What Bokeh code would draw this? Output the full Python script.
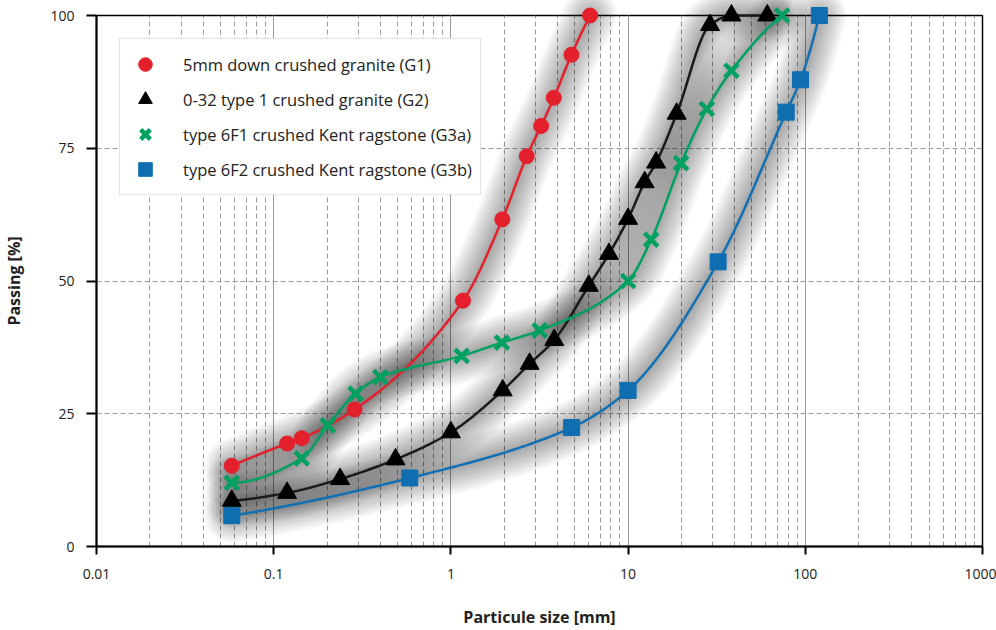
import numpy as np
from bokeh.plotting import figure
from bokeh.models import Legend, LegendItem, FixedTicker, LogTicker, CustomJSTickFormatter
from bokeh.embed import file_html
from bokeh.resources import INLINE

# ---- data ----
g1_size = [0.058, 0.119, 0.144, 0.286, 1.17, 1.95, 2.68, 3.23, 3.81, 4.79, 6.1]
g1_pass = [15.2, 19.4, 20.4, 25.8, 46.3, 61.6, 73.5, 79.2, 84.5, 92.6, 100]

g2_size = [0.058, 0.119, 0.237, 0.487, 1.0, 1.96, 2.78, 3.83, 6.0, 7.8, 10.0, 12.4, 14.4, 18.8, 29.0, 38.3, 61.0]
g2_pass = [8.6, 10.1, 12.7, 16.4, 21.5, 29.4, 34.4, 38.9, 49.1, 55.1, 61.7, 68.6, 72.3, 81.5, 98.2, 100, 100]

g3a_size = [0.058, 0.144, 0.202, 0.29, 0.40, 1.15, 1.94, 3.17, 10.0, 13.5, 19.9, 27.8, 38.3, 74.0]
g3a_pass = [12.0, 16.6, 22.8, 28.8, 31.9, 35.9, 38.4, 40.7, 50.0, 57.8, 72.2, 82.4, 89.6, 100]

g3b_size = [0.058, 0.586, 4.8, 10.0, 32.2, 78.0, 94.0, 120.0]
g3b_pass = [5.8, 12.9, 22.4, 29.4, 53.6, 81.8, 87.9, 100]

labels = ["5mm down crushed granite (G1)", "0-32 type 1 crushed granite (G2)",
          "type 6F1 crushed Kent ragstone (G3a)", "type 6F2 crushed Kent ragstone (G3b)"]
colors = ["#e3202b", "#1a1a1a", "#00a160", "#1170b3"]
marker_colors = ["#e3202b", "#000000", "#00a160", "#0f6eb0"]
markers = ["circle", "triangle", "x", "square"]
msizes = [15, 19, 19, 16]

series = [(g1_size, g1_pass), (g2_size, g2_pass), (g3a_size, g3a_pass), (g3b_size, g3b_pass)]


def smooth(xs, ys, per=40):
    """Monotone cubic (PCHIP) curve through the points, in log-x space."""
    x = np.log10(np.asarray(xs, float))
    y = np.asarray(ys, float)
    n = len(x)
    h = np.diff(x)
    d = np.diff(y) / h
    m = np.zeros(n)
    for k in range(1, n - 1):
        if d[k - 1] * d[k] > 0:
            w1 = 2 * h[k] + h[k - 1]
            w2 = h[k] + 2 * h[k - 1]
            m[k] = (w1 + w2) / (w1 / d[k - 1] + w2 / d[k])

    def endpoint(h0, h1, d0, d1):
        v = ((2 * h0 + h1) * d0 - h0 * d1) / (h0 + h1)
        if np.sign(v) != np.sign(d0):
            v = 0.0
        elif np.sign(d0) != np.sign(d1) and abs(v) > abs(3 * d0):
            v = 3 * d0
        return v

    if n > 2:
        m[0] = endpoint(h[0], h[1], d[0], d[1])
        m[-1] = endpoint(h[-1], h[-2], d[-1], d[-2])
    else:
        m[:] = d[0]
    xx, yy = [], []
    for k in range(n - 1):
        t = np.linspace(0, 1, per, endpoint=(k == n - 2))
        h00 = 2 * t**3 - 3 * t**2 + 1
        h10 = t**3 - 2 * t**2 + t
        h01 = -2 * t**3 + 3 * t**2
        h11 = t**3 - t**2
        xx.append(x[k] + t * h[k])
        yy.append(h00 * y[k] + h10 * h[k] * m[k] + h01 * y[k + 1] + h11 * h[k] * m[k + 1])
    return 10 ** np.concatenate(xx), np.concatenate(yy)


p = figure(width=996, height=630, x_axis_type="log", x_range=(0.01, 1000), y_range=(0, 100),
           output_backend="svg", toolbar_location=None,
           min_border_left=96, min_border_right=14, min_border_top=15, min_border_bottom=84)

p.background_fill_color = "white"
p.border_fill_color = "white"
p.outline_line_color = "black"
p.outline_line_width = 1.5

FONT = "Open Sans"

# x axis
p.xaxis.ticker = LogTicker(num_minor_ticks=10)
p.xaxis.formatter = CustomJSTickFormatter(code="return parseFloat(tick.toPrecision(6)).toString();")
p.xaxis.axis_label = "Particule size [mm]"
p.xaxis.axis_line_color = "black"
p.xaxis.axis_line_width = 2
p.xaxis.major_tick_line_color = "black"
p.xaxis.major_tick_line_width = 2
p.xaxis.major_tick_out = 8
p.xaxis.major_tick_in = 0
p.xaxis.minor_tick_line_color = None
p.xaxis.major_label_standoff = 14
p.xaxis.axis_label_standoff = 24

# y axis
p.yaxis.ticker = FixedTicker(ticks=[0, 25, 50, 75, 100])
p.yaxis.axis_label = "Passing [%]"
p.yaxis.axis_line_color = "black"
p.yaxis.axis_line_width = 2
p.yaxis.major_tick_line_color = "black"
p.yaxis.major_tick_line_width = 2
p.yaxis.major_tick_out = 10
p.yaxis.major_tick_in = 0
p.yaxis.minor_tick_line_color = None
p.yaxis.major_label_standoff = 12
p.yaxis.axis_label_standoff = 22

for ax in (p.xaxis, p.yaxis):
    ax.major_label_text_font = FONT
    ax.major_label_text_font_size = "14px"
    ax.major_label_text_color = "#222222"
    ax.axis_label_text_font = FONT
    ax.axis_label_text_font_size = "16px"
    ax.axis_label_text_font_style = "bold"
    ax.axis_label_text_color = "#222222"

# grids
p.xgrid.grid_line_color = "#9a9a9a"
p.xgrid.grid_line_width = 1
p.xgrid.minor_grid_line_color = "#9a9a9a"
p.xgrid.minor_grid_line_dash = "5 3"
p.xgrid.minor_grid_line_width = 1
p.ygrid.ticker = FixedTicker(ticks=[25, 50, 75])
p.ygrid.grid_line_color = "#9a9a9a"
p.ygrid.grid_line_dash = "5 3"
p.ygrid.grid_line_width = 1

# soft shadows behind the curves
curves = [smooth(xs, ys) for xs, ys in series]
for cx, cy in curves:
    for w in range(54, 5, -4):
        r = p.line(cx, cy, line_color="black", line_alpha=0.026, line_width=w,
                   line_cap="round", line_join="round")
        r.level = "annotation"

items = []
for i, ((xs, ys), (cx, cy)) in enumerate(zip(series, curves)):
    ln = p.line(cx, cy, line_color=colors[i], line_width=2.5)
    ln.level = "overlay"
    if markers[i] == "x":
        mk = p.scatter(xs, ys, marker="x", size=msizes[i], line_color=marker_colors[i], line_width=4.5)
    else:
        mk = p.scatter(xs, ys, marker=markers[i], size=msizes[i], fill_color=marker_colors[i],
                       line_color=marker_colors[i], line_width=1)
    mk.level = "overlay"
    items.append(LegendItem(label=labels[i], renderers=[mk]))

legend = Legend(items=items, location="top_left", margin=23, padding=8, spacing=1,
                glyph_width=34, glyph_height=34, label_standoff=21,
                label_text_font=FONT, label_text_font_size="16.5px", label_text_color="#222222",
                border_line_color="#c8c8c8", border_line_width=1.5,
                background_fill_color="white", background_fill_alpha=1.0)
legend.level = "overlay"
p.add_layout(legend)

open("out.html", "w").write(file_html(p, INLINE))
